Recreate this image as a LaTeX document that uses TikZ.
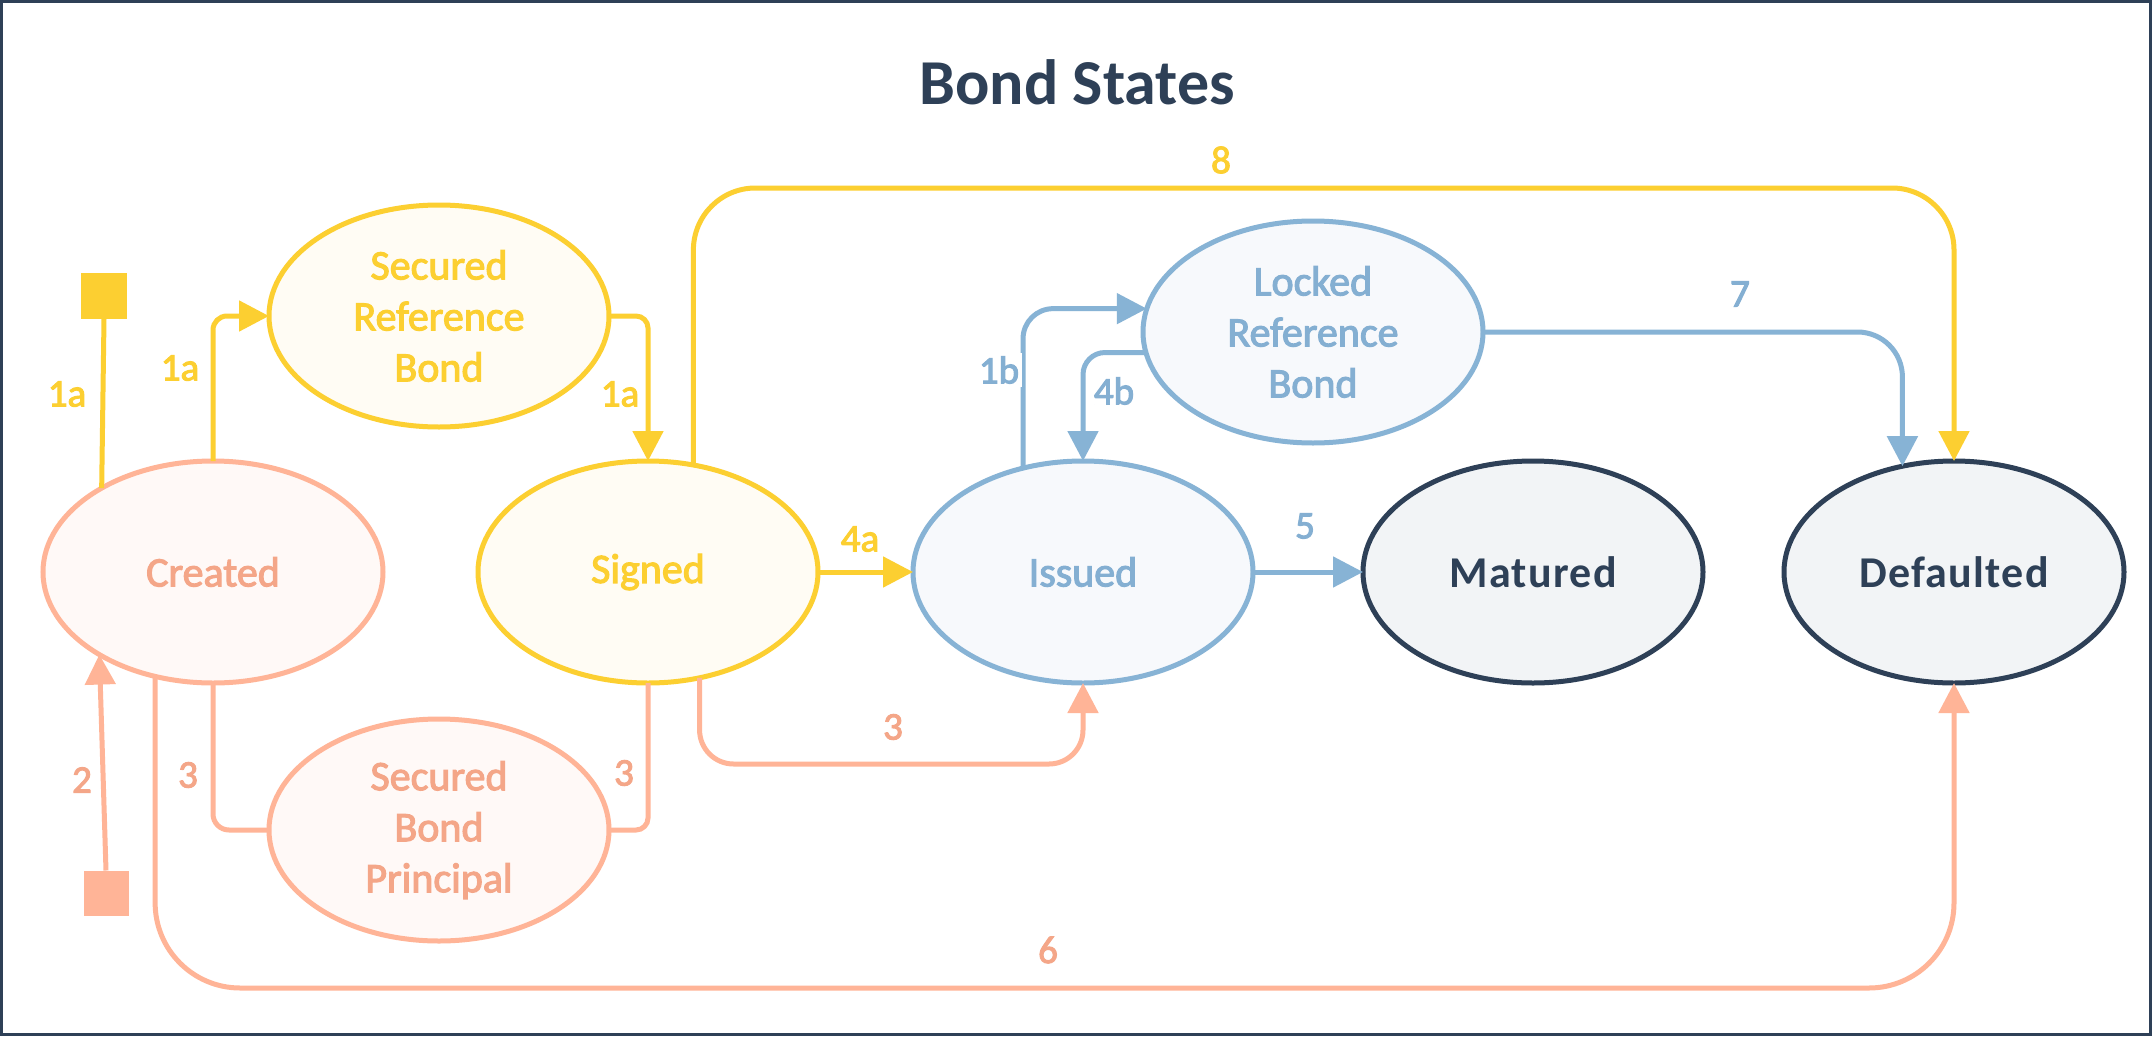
\documentclass[tikz,border=0pt]{standalone}
\usepackage{fontspec}
\setmainfont{Carlito}
\newfontfamily\nodefont[FakeBold=2.6]{Carlito}
\newfontfamily\darkfont[LetterSpace=3]{Carlito}
\usetikzlibrary{arrows.meta,shapes.geometric}
\definecolor{cyel}{HTML}{FCCF31}
\definecolor{csal}{HTML}{FFB497}
\definecolor{csaltxt}{HTML}{F4A688}
\definecolor{cblue}{HTML}{87B3D5}
\definecolor{cbluetxt}{HTML}{84AFD2}
\definecolor{cdark}{HTML}{2E4057}
\definecolor{fsal}{HTML}{FFF9F7}
\definecolor{fyel}{HTML}{FFFCF4}
\definecolor{fblue}{HTML}{F7F9FC}
\definecolor{fdark}{HTML}{F2F4F6}
\tikzset{
  state/.style={ellipse, line width=5pt, minimum width=340pt, minimum height=222pt,
    inner sep=0pt, outer sep=0pt, align=center, font=\nodefont\fontsize{42}{51}\selectfont},
  salstate/.style={state, draw=csal, fill=fsal, text=csaltxt},
  yelstate/.style={state, draw=cyel, fill=fyel, text=cyel},
  bluestate/.style={state, draw=cblue, fill=fblue, text=cbluetxt},
  darkstate/.style={state, draw=cdark, fill=fdark, text=cdark, font=\darkfont\bfseries\fontsize{44}{51}\selectfont},
  conn/.style={line width=5pt},
  tip/.style={-{Triangle[length=30pt,width=30pt]}},
  lbl/.style={fill=white, inner sep=3pt, font=\nodefont\fontsize{39}{48}\selectfont},
}
\begin{document}
\begin{tikzpicture}[x=1pt,y=-1pt]
\useasboundingbox (0,0) rectangle (2152,1036);
\fill[white] (0,0) rectangle (2152,1036);
\draw[cdark, line width=3pt] (1.5,1.5) rectangle (2150.5,1034.5);

\node[text=cdark, font=\fontsize{64}{70}\selectfont\bfseries] (title) at (1077,82) {Bond States};

% states
\node[salstate] (created) at (213,572) {Created};
\node[yelstate] (srb) at (439,316) {Secured\\Reference\\Bond};
\node[yelstate] (signed) at (648,572) {Signed};
\node[salstate] (sbp) at (439,830) {Secured\\Bond\\Principal};
\node[bluestate] (issued) at (1083,572) {Issued};
\node[bluestate] (lrb) at (1313,332) {Locked\\Reference\\Bond};
\node[darkstate] (matured) at (1533,572) {Matured};
\node[darkstate] (defaulted) at (1954,572) {Defaulted};

% pseudo states
\node[fill=cyel, minimum size=46pt, inner sep=0pt, outer sep=0pt] (sq1) at (104,296) {};
\node[fill=csal, minimum size=45pt, inner sep=0pt, outer sep=0pt] (sq2) at (106,893) {};

% connectors
\draw[conn, cyel] (sq1.south) -- (created.143);
\draw[conn, csal, tip] (sq2.north) -- (created.-144);
\draw[conn, cyel, tip, rounded corners=14pt] (created.north) |- (srb.west);
\draw[conn, cyel, tip, rounded corners=12pt] (srb.east) -| (signed.north);
\draw[conn, csal, rounded corners=16pt] (created.south) |- (sbp.west);
\draw[conn, csal, rounded corners=12pt] (sbp.east) -| (signed.south);
\draw[conn, csal, tip, rounded corners=34pt] (signed.-64) |- ([yshift=-81pt]issued.south) -- (issued.south);
\draw[conn, cyel, tip] (signed.east) -- (issued.west);
\draw[conn, cyel, tip, rounded corners=62pt] (signed.67) |- ([yshift=273pt]defaulted.north) -- (defaulted.north);
\draw[conn, cblue, tip, rounded corners=30pt] (issued.120) |- (lrb.172);
\draw[conn, cblue, tip, rounded corners=22pt] (lrb.187) -| (issued.north);
\draw[conn, cblue, tip, rounded corners=45pt] (lrb.east) -| (defaulted.116);
\draw[conn, cblue, tip] (issued.east) -- (matured.west);
\draw[conn, csal, tip, rounded corners=85pt] (created.-119) |- ([yshift=-305pt]defaulted.south) -- (defaulted.south);

% labels
\node[lbl, text=cyel] (l1a) at (67,394) {1a};
\node[lbl, text=cyel] (l1b2) at (180,368) {1a};
\node[lbl, text=cyel] (l1a3) at (620,394) {1a};
\node[lbl, text=csaltxt] (l2) at (82,780) {2};
\node[lbl, text=csaltxt] (l3a) at (188,775) {3};
\node[lbl, text=csaltxt] (l3b) at (624,773) {3};
\node[lbl, text=csaltxt] (l3c) at (893,727) {3};
\node[lbl, text=cyel] (l4a) at (860,539) {4a};
\node[lbl, text=cyel] (l8) at (1221,160) {8};
\node[lbl, text=cbluetxt] (l1b) at (999,370) {1b};
\node[lbl, text=cbluetxt] (l4b) at (1114,391) {4b};
\node[lbl, text=cbluetxt] (l7) at (1740,294) {7};
\node[lbl, text=cbluetxt] (l5) at (1305,526) {5};
\node[lbl, text=csaltxt] (l6) at (1048,950) {6};
\end{tikzpicture}
\end{document}
